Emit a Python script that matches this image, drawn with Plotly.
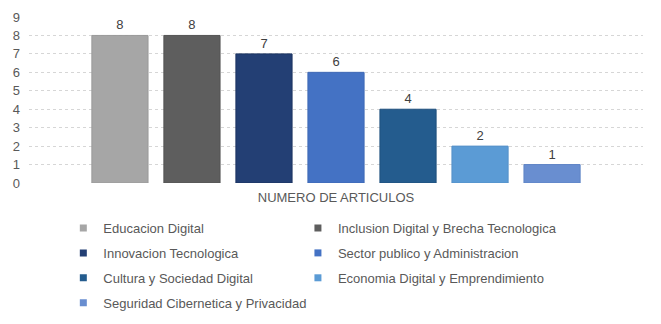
import plotly.graph_objects as go

categories = ["NUMERO DE ARTICULOS"]
series_names = [
    "Educacion Digital",
    "Inclusion Digital y Brecha Tecnologica",
    "Innovacion Tecnologica",
    "Sector publico y Administracion",
    "Cultura y Sociedad Digital",
    "Economia Digital y Emprendimiento",
    "Seguridad Cibernetica y Privacidad",
]
series_values = [8, 8, 7, 6, 4, 2, 1]
fill_colors = ["#A6A6A6", "#5E5E5E", "#233F74", "#4472C4", "#245C8E", "#5B9BD5", "#698ED0"]
line_colors = ["#9A9A9A", "#545454", "#1C3461", "#3F69B5", "#1F507D", "#5590C8", "#5F84C6"]
y_ticks = [0, 1, 2, 3, 4, 5, 6, 7, 8, 9]

fig = go.Figure()
for i, (name, val) in enumerate(zip(series_names, series_values)):
    fig.add_trace(go.Bar(
        x=categories, y=[val], name=name,
        marker=dict(color=fill_colors[i], line=dict(color=line_colors[i], width=1)),
        text=[str(val)], textposition="outside",
        textfont=dict(family="Liberation Sans, Arial", size=13, color="#404040"),
        cliponaxis=False, showlegend=False,
    ))

# legend entries (small square swatches), split into two columns
for i, name in enumerate(series_names):
    fig.add_trace(go.Scatter(
        x=[None], y=[None], mode="markers", name=name,
        marker=dict(symbol="square", size=7, color=fill_colors[i]),
        legend="legend" if i % 2 == 0 else "legend2",
        legendgroup=f"g{i}", showlegend=True,
    ))

leg_font = dict(family="Liberation Sans, Arial", size=13, color="#595959")
fig.update_layout(
    width=653, height=316,
    margin=dict(l=21, r=18, t=9, b=141, autoexpand=False),
    paper_bgcolor="white", plot_bgcolor="white",
    barmode="group", bargap=0.179, bargroupgap=0.22,
    font=dict(family="Liberation Sans, Arial", color="#595959", size=12),
    xaxis=dict(showgrid=False, showline=False, ticks="", automargin=False,
               tickfont=dict(size=13, color="#595959"), ticklabelstandoff=5),
    yaxis=dict(range=[0, 9], tickvals=y_ticks, showgrid=True, gridcolor="#D6D6D6",
               griddash="dot", gridwidth=1, zeroline=False, showline=False,
               automargin=False,
               tickfont=dict(size=13, color="#595959"), ticklabelstandoff=8),
    legend=dict(orientation="v", x=0.0559, xanchor="left", y=-0.181, yanchor="top",
                font=leg_font, tracegroupgap=5, bgcolor="rgba(0,0,0,0)",
                itemwidth=30),
    legend2=dict(orientation="v", x=0.438, xanchor="left", y=-0.181, yanchor="top",
                 font=leg_font, tracegroupgap=5, bgcolor="rgba(0,0,0,0)",
                 itemwidth=30),
    showlegend=True,
)
fig.write_html("out.html")
